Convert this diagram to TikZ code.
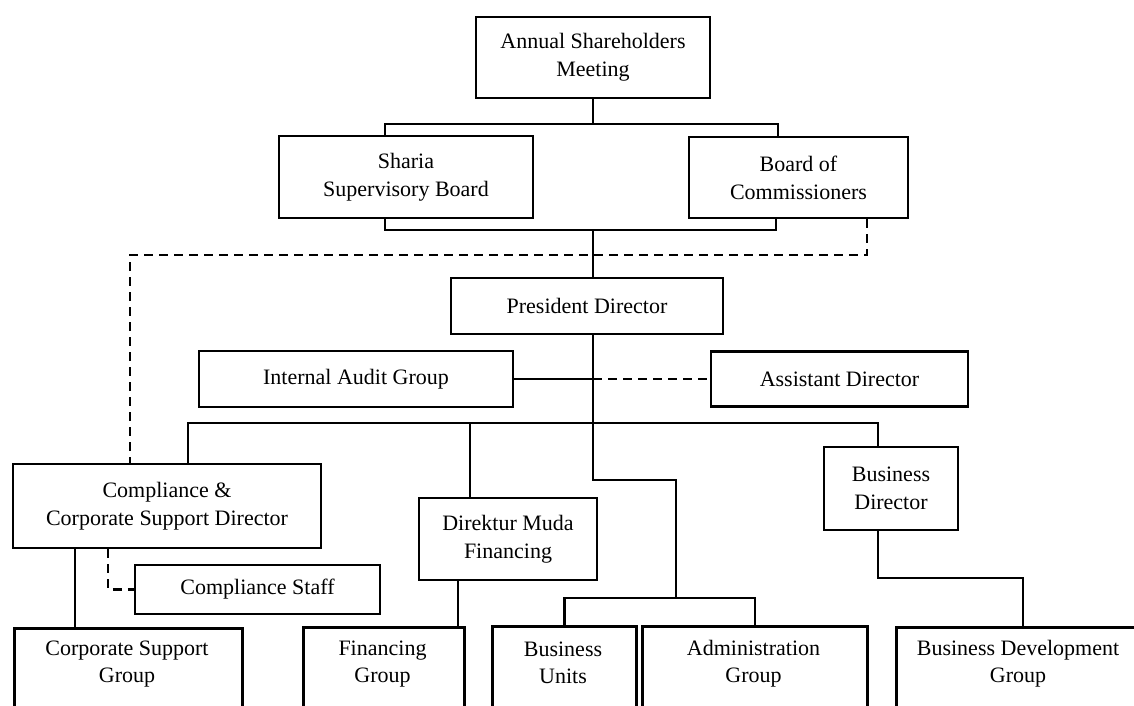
\documentclass[tikz,border=0pt]{standalone}
\usepackage{fontspec}
\setmainfont{Liberation Serif}
\begin{document}
\begin{tikzpicture}[x=1pt,y=-1pt]
\tikzset{
  box/.style={draw, line width=2.7pt, inner sep=0pt, align=center, font=\fontsize{22}{28}\selectfont},
  txt/.style={align=center, inner sep=0pt, font=\fontsize{22}{27}\selectfont},
  conn/.style={line width=2.6pt},
  dconn/.style={line width=2.6pt, dash pattern=on 9pt off 6pt},
}
\useasboundingbox (0,0) rectangle (1134,706);
\clip (0,0) rectangle (1134,706);
\fill[white] (0,0) rectangle (1134,706);

% boxes
\node[box, minimum width=234pt, minimum height=81pt] (asm) at (593,57.5) {Annual Shareholders\\Meeting};
\node[box, minimum width=254pt, minimum height=82pt] (sharia) at (406,177) {Sharia\\Supervisory Board};
\node[box, minimum width=219pt, minimum height=81pt] (boc) at (798.5,177.5) {Board of\\Commissioners};
\node[box, minimum width=272pt, minimum height=56pt] (pres) at (587,306) {President Director};
\node[box, minimum width=314pt, minimum height=56pt] (audit) at (356,379) {Internal Audit Group};
\node[box, minimum width=257pt, minimum height=55pt] (asst) at (839.5,379) {Assistant Director};
\node[box, minimum width=308pt, minimum height=84pt] (comp) at (167,506) {Compliance \&\\Corporate Support Director};
\node[box, minimum width=134pt, minimum height=83pt] (busdir) at (891,488.5) {Business\\Director};
\node[box, minimum width=178pt, minimum height=82pt] (dmf) at (508,539) {Direktur Muda\\Financing};
\node[box, minimum width=245pt, minimum height=49pt] (staff) at (257.5,589.5) {Compliance Staff};

\node[box, anchor=north west, minimum width=228pt, minimum height=100pt] (csg) at (13,627) {};
\node[box, anchor=north west, minimum width=161pt, minimum height=100pt] (fin) at (302,626) {};
\node[box, anchor=north west, minimum width=144pt, minimum height=100pt] (bu) at (491,625) {};
\node[box, anchor=north west, minimum width=225pt, minimum height=100pt] (adm) at (641,625) {};
\node[box, anchor=north west, minimum width=260pt, minimum height=100pt] (bdg) at (895,626) {};

\node[txt] (csgt) at (127,664) {Corporate Support\\Group};
\node[txt] (fint) at (382.5,664) {Financing\\Group};
\node[txt] (but) at (563,663) {Business\\Units};
\node[txt] (admt) at (753.5,664) {Administration\\Group};
\node[txt] (bdgt) at (1018,664) {Business Development\\Group};

% junctions
\coordinate (j1) at (593,124);
\coordinate (j2) at (593,230);
\coordinate (d1) at (130,255);
\coordinate (j3) at (593,379);
\coordinate (j4) at (593,423);
\coordinate (j5) at (593,480);
\coordinate (j6) at (676,598);
\coordinate (j7) at (1023,578);

% connectors
\draw[conn] (asm.south) -- (j1);
\draw[conn] ([xshift=-21pt]sharia.north) |- (j1) -| ([xshift=-20.5pt]boc.north);
\draw[conn] ([xshift=-21pt]sharia.south) |- (j2) -| ([xshift=-22.5pt]boc.south);
\draw[conn] (j2) -- (pres.north -| j2);
\draw[dconn] ([xshift=68.5pt]boc.south) |- (d1) -- (comp.north -| d1);

\draw[conn] (pres.south -| j3) -- (j5) -| (j6);
\draw[conn] (audit.east) -- (j3);
\draw[dconn] (j3) -- (asst.west);
\draw[conn] ([xshift=21pt]comp.north) |- (j4) -| ([xshift=-13pt]busdir.north);
\draw[conn] ([xshift=-38pt]dmf.north) -- ([xshift=-38pt]dmf.north |- j4);

\draw[conn] (bu.north) |- (j6) -| (adm.north);
\draw[conn] ([xshift=-92pt]comp.south) -- ([xshift=-92pt]comp.south |- csg.north);
\draw[dconn] ([xshift=-59pt]comp.south) |- (staff.west);
\draw[conn] ([xshift=-50pt]dmf.south) -- ([xshift=-50pt]dmf.south |- fin.north);
\draw[conn] ([xshift=-13pt]busdir.south) |- (j7) -- (j7 |- bdg.north);
\end{tikzpicture}
\end{document}
